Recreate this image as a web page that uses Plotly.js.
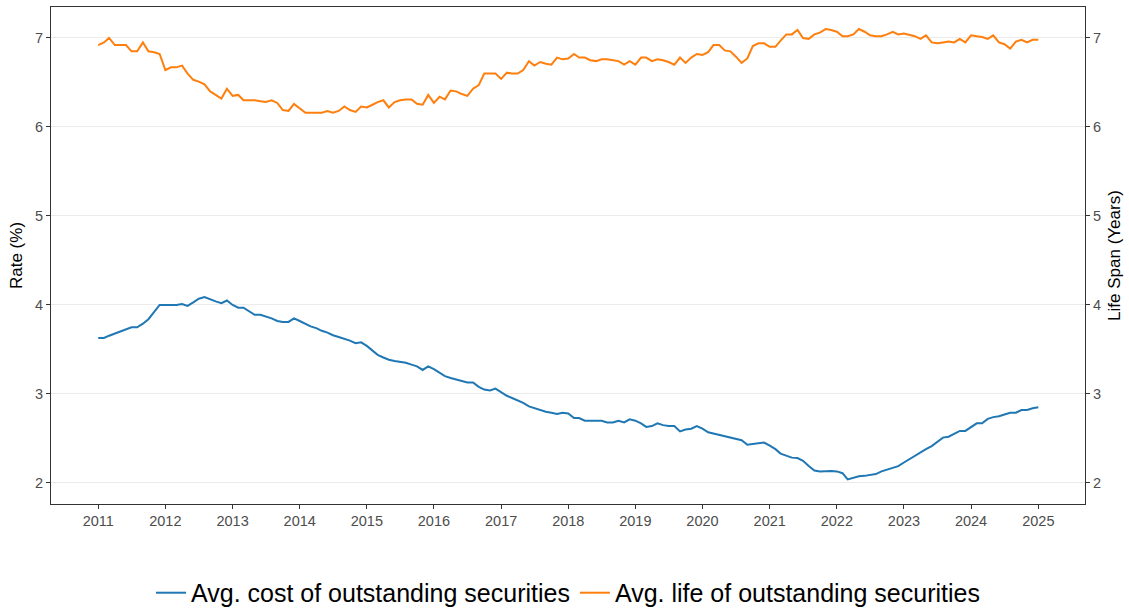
<!DOCTYPE html>
<html>
<head>
<meta charset="utf-8">
<script src="https://cdn.plot.ly/plotly-3.0.1.min.js"></script>
<style>html,body{margin:0;padding:0;background:#fff;}#chart{width:1129px;height:609px;}</style>
</head>
<body>
<div id="chart"></div>
<script>
const startYear = 2011;
const nMonths = 169;
const seriesNames = ["Avg. cost of outstanding securities", "Avg. life of outstanding securities"];
const tickYears = ["2011","2012","2013","2014","2015","2016","2017","2018","2019","2020","2021","2022","2023","2024","2025"];

const avgCost = [
3.63,3.63,3.655,3.68,3.70,3.73,3.75,3.75,3.79,3.84,3.92,4.00,
4.00,4.00,4.00,4.01,3.99,4.03,4.07,4.09,4.06,4.04,4.02,4.05,
4.00,3.97,3.97,3.93,3.89,3.89,3.87,3.85,3.82,3.81,3.81,3.85,
3.82,3.79,3.76,3.74,3.71,3.69,3.66,3.64,3.62,3.60,3.57,3.58,
3.54,3.49,3.44,3.41,3.385,3.37,3.36,3.35,3.33,3.31,3.27,3.31,
3.28,3.24,3.20,3.18,3.165,3.15,3.13,3.13,3.08,3.05,3.04,3.06,
3.015,2.98,2.955,2.93,2.90,2.86,2.84,2.82,2.80,2.79,2.775,2.79,
2.78,2.73,2.73,2.70,2.70,2.70,2.70,2.68,2.68,2.70,2.68,2.715,
2.70,2.67,2.63,2.64,2.67,2.65,2.64,2.64,2.58,2.60,2.61,2.64,
2.61,2.57,2.555,2.535,2.525,2.51,2.49,2.48,2.43,2.44,2.45,2.455,
2.42,2.38,2.33,2.31,2.285,2.28,2.25,2.19,2.14,2.13,2.135,2.135,
2.13,2.11,2.04,2.06,2.075,2.08,2.09,2.10,2.13,2.15,2.165,2.19,
2.23,2.27,2.30,2.35,2.38,2.415,2.46,2.51,2.52,2.55,2.585,2.585,
2.63,2.67,2.67,2.72,2.74,2.75,2.77,2.79,2.79,2.82,2.82,2.84,
2.85];

const avgLife = [
6.92,6.95,7.00,6.92,6.92,6.92,6.85,6.85,6.95,6.85,6.84,6.82,
6.64,6.67,6.67,6.69,6.60,6.53,6.51,6.48,6.40,6.36,6.32,6.43,
6.35,6.36,6.30,6.30,6.30,6.29,6.28,6.30,6.27,6.19,6.18,6.26,
6.21,6.16,6.16,6.16,6.16,6.18,6.16,6.18,6.23,6.19,6.17,6.23,
6.22,6.25,6.28,6.30,6.22,6.28,6.30,6.31,6.31,6.26,6.25,6.36,
6.27,6.34,6.31,6.41,6.40,6.37,6.35,6.43,6.47,6.60,6.60,6.60,
6.54,6.61,6.60,6.60,6.64,6.74,6.69,6.73,6.71,6.70,6.78,6.76,
6.77,6.82,6.78,6.78,6.75,6.74,6.76,6.76,6.75,6.74,6.70,6.74,
6.70,6.78,6.78,6.74,6.76,6.75,6.73,6.70,6.78,6.72,6.78,6.82,
6.81,6.84,6.92,6.92,6.86,6.85,6.79,6.72,6.77,6.91,6.94,6.94,
6.90,6.90,6.97,7.04,7.04,7.09,7.00,6.99,7.04,7.06,7.10,7.09,
7.07,7.02,7.02,7.04,7.10,7.07,7.03,7.02,7.02,7.04,7.07,7.04,
7.05,7.03,7.02,6.99,7.03,6.95,6.94,6.95,6.96,6.95,6.99,6.95,
7.03,7.02,7.01,6.99,7.03,6.95,6.93,6.88,6.96,6.98,6.95,6.98,
6.98];

const dates = [];
for (let i = 0; i < nMonths; i++) {
  const y = startYear + Math.floor(i / 12);
  const m = (i % 12) + 1;
  dates.push(y + "-" + String(m).padStart(2, "0") + "-01");
}
const tickVals = tickYears.map(y => y + "-01-01");

const font = "Liberation Sans, Arial, Helvetica, sans-serif";
const traces = [
  {x: dates, y: avgCost, name: seriesNames[0], type: "scatter", mode: "lines",
   line: {color: "#1f77b4", width: 2}, yaxis: "y"},
  {x: dates, y: avgLife, name: seriesNames[1], type: "scatter", mode: "lines",
   line: {color: "#ff7f0e", width: 2}, yaxis: "y2"}
];

const yrange = [1.764, 7.348];
const tickFont = {size: 14.5, color: "#4d4d4d", family: font};
const layout = {
  width: 1129, height: 609,
  margin: {l: 51, r: 44, t: 7, b: 105, autoexpand: false},
  paper_bgcolor: "#ffffff", plot_bgcolor: "#ffffff",
  font: {family: font, color: "#000000"},
  showlegend: true,
  legend: {orientation: "h", x: 0.5, xanchor: "center", y: -0.179, yanchor: "middle",
           font: {size: 25, family: font, color: "#000000"}, itemwidth: 30},
  xaxis: {type: "date", range: ["2010-04-19", "2025-09-12"],
          tickvals: tickVals, ticktext: tickYears,
          showgrid: false, zeroline: false,
          showline: true, linecolor: "#333333", linewidth: 1, mirror: true,
          ticks: "outside", ticklen: 4, tickcolor: "#333333",
          tickfont: tickFont},
  yaxis: {range: yrange, tickvals: [2,3,4,5,6,7],
          showgrid: true, gridcolor: "#ebebeb", gridwidth: 1, zeroline: false,
          showline: true, linecolor: "#333333", linewidth: 1,
          ticks: "outside", ticklen: 4, tickcolor: "#333333",
          tickfont: tickFont,
          title: {text: "Rate (%)", font: {size: 17, color: "#000000", family: font}, standoff: 8}},
  yaxis2: {range: yrange, tickvals: [2,3,4,5,6,7], overlaying: "y", side: "right",
          showgrid: false, zeroline: false,
          showline: true, linecolor: "#333333", linewidth: 1,
          ticks: "outside", ticklen: 4, tickcolor: "#333333",
          tickfont: tickFont,
          title: {text: "Life Span (Years)", font: {size: 17, color: "#000000", family: font}, standoff: 8}}
};

Plotly.newPlot("chart", traces, layout, {displayModeBar: false, responsive: false});
</script>
</body>
</html>
